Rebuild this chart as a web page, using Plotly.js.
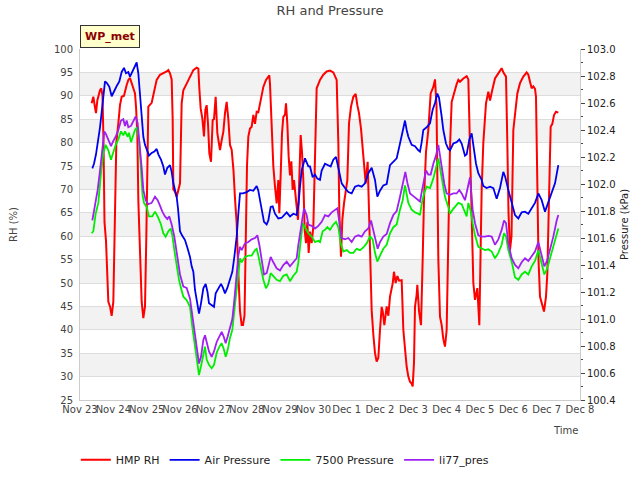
<!DOCTYPE html>
<html>
<head>
<meta charset="utf-8">
<script src="https://cdn.plot.ly/plotly-3.0.1.min.js"></script>
<style>html,body{margin:0;padding:0;background:#fff;}#chart{width:640px;height:480px;}</style>
</head>
<body>
<div id="chart"></div>
<script>
// Time of each reading, in days after 2023-11-23 00:00
var startDate = Date.UTC(2023, 10, 23);

var hmpDays = [0.35,0.40,0.45,0.48,0.52,0.56,0.60,0.64,0.675,0.705,0.735,0.78,0.82,0.85,0.90,0.95,1.00,1.05,1.09,1.15,1.20,1.25,1.32,1.40,1.45,1.50,1.55,1.60,1.65,1.68,1.72,1.75,1.80,1.85,1.90,1.95,1.99,2.02,2.05,2.15,2.25,2.30,2.40,2.50,2.60,2.65,2.70,2.75,2.78,2.80,2.85,2.90,2.95,3.00,3.05,3.10,3.20,3.30,3.40,3.50,3.55,3.58,3.62,3.67,3.72,3.76,3.80,3.84,3.88,3.93,3.98,4.02,4.07,4.12,4.16,4.20,4.25,4.30,4.35,4.40,4.45,4.50,4.55,4.58,4.605,4.65,4.70,4.75,4.80,4.85,4.89,4.935,4.98,5.01,5.05,5.10,5.15,5.20,5.25,5.30,5.35,5.45,5.50,5.58,5.64,5.68,5.70,5.75,5.80,5.85,5.90,5.95,5.98,6.02,6.06,6.10,6.15,6.18,6.22,6.26,6.30,6.34,6.38,6.42,6.46,6.50,6.54,6.58,6.62,6.66,6.70,6.74,6.78,6.82,6.86,6.90,6.95,7.00,7.05,7.10,7.20,7.30,7.40,7.50,7.60,7.70,7.75,7.78,7.83,7.87,7.92,7.97,8.02,8.07,8.13,8.20,8.27,8.32,8.37,8.43,8.47,8.53,8.57,8.63,8.67,8.71,8.75,8.80,8.85,8.90,8.95,9.00,9.05,9.08,9.13,9.20,9.25,9.30,9.38,9.42,9.47,9.52,9.57,9.65,9.70,9.75,9.80,9.85,9.90,9.95,9.98,10.02,10.05,10.10,10.12,10.17,10.23,10.28,10.32,10.38,10.45,10.52,10.60,10.65,10.695,10.725,10.75,10.80,10.85,10.90,10.95,11.00,11.04,11.08,11.10,11.15,11.25,11.30,11.35,11.40,11.50,11.60,11.65,11.68,11.715,11.76,11.80,11.85,11.92,11.98,12.015,12.05,12.10,12.18,12.25,12.30,12.38,12.45,12.55,12.65,12.70,12.78,12.82,12.855,12.90,12.945,13.00,13.05,13.12,13.20,13.30,13.40,13.45,13.50,13.55,13.60,13.65,13.68,13.72,13.755,13.80,13.85,13.88,13.92,13.98,14.02,14.06,14.12,14.17,14.22,14.28,14.35];
var hmpRH = [88.4,89.8,87.5,86.3,89.0,90.5,91.2,91.6,90.0,80.0,63.0,59.0,50.0,46.0,45.0,43.0,46.0,67.7,80.0,84.1,88.0,89.8,90.0,92.3,93.4,93.8,92.5,91.2,90.5,87.7,82.0,67.7,55.0,46.0,42.5,45.0,60.0,80.0,87.7,88.5,91.7,93.4,94.5,94.8,95.2,95.5,94.8,93.5,85.0,70.0,69.5,68.4,70.0,71.3,88.4,91.2,92.6,94.1,95.5,96.0,95.8,91.6,87.3,85.2,81.3,87.0,88.0,84.0,77.7,75.9,84.8,85.0,89.8,82.0,79.8,78.4,80.5,82.3,86.3,88.7,85.0,79.5,78.5,75.9,74.0,68.0,62.8,52.0,44.0,41.0,41.0,43.0,60.0,75.0,81.3,83.0,83.4,85.9,84.0,86.6,86.5,89.8,91.9,93.4,94.0,94.4,92.5,84.1,74.9,70.6,67.0,72.0,64.9,73.0,82.0,85.5,86.0,88.4,84.0,77.0,73.0,76.0,69.9,72.0,68.4,66.3,63.5,75.0,81.6,78.0,72.0,61.3,58.5,63.0,56.4,61.0,58.5,62.0,77.0,91.6,93.4,94.5,95.2,95.4,95.0,93.4,80.0,65.0,55.6,63.5,67.0,69.2,72.0,84.1,87.7,89.8,90.4,88.0,86.3,83.0,79.1,74.1,71.3,75.9,65.0,52.8,44.2,39.0,35.0,33.2,34.0,40.0,44.9,44.0,41.0,45.0,43.0,47.1,49.9,52.4,50.0,51.5,50.5,50.6,40.0,36.0,32.1,30.0,28.9,28.5,27.9,33.0,44.9,47.5,49.6,44.0,41.0,55.0,68.0,78.0,82.7,90.5,91.9,93.5,88.0,70.0,55.0,42.8,41.0,38.0,36.4,40.0,55.0,70.0,79.1,88.7,91.6,92.5,93.4,93.0,93.7,94.2,93.5,85.0,70.0,58.0,50.0,46.4,48.9,41.0,55.0,70.0,80.0,88.4,90.9,89.0,91.6,93.7,94.8,95.9,95.0,94.1,80.0,65.0,57.0,60.0,82.7,86.0,90.5,92.7,94.1,95.0,94.5,93.0,91.6,92.0,91.5,89.8,70.0,55.0,47.1,45.5,44.9,43.9,47.1,52.0,65.0,83.4,84.0,85.9,86.6,86.4];

var airDays = [0.37,0.42,0.48,0.52,0.60,0.68,0.75,0.80,0.88,0.95,1.00,1.05,1.11,1.18,1.25,1.32,1.38,1.45,1.50,1.55,1.62,1.70,1.75,1.80,1.85,1.90,1.95,2.00,2.07,2.15,2.23,2.30,2.35,2.43,2.50,2.55,2.62,2.70,2.75,2.80,2.85,2.90,2.94,3.00,3.06,3.15,3.22,3.30,3.35,3.40,3.45,3.51,3.57,3.63,3.70,3.77,3.825,3.87,3.95,4.02,4.07,4.15,4.23,4.29,4.35,4.42,4.50,4.57,4.63,4.70,4.75,4.80,4.89,5.00,5.10,5.20,5.30,5.35,5.40,5.45,5.52,5.60,5.65,5.72,5.78,5.85,5.95,6.05,6.15,6.20,6.30,6.40,6.50,6.555,6.60,6.65,6.75,6.80,6.85,6.90,6.98,7.05,7.12,7.20,7.25,7.35,7.45,7.52,7.60,7.68,7.75,7.85,7.95,8.05,8.15,8.25,8.35,8.45,8.55,8.65,8.75,8.85,8.92,9.00,9.10,9.20,9.30,9.40,9.50,9.60,9.70,9.75,9.80,9.85,9.95,10.05,10.15,10.20,10.25,10.30,10.40,10.50,10.58,10.65,10.72,10.77,10.85,10.90,10.98,11.05,11.10,11.20,11.30,11.38,11.45,11.55,11.60,11.68,11.75,11.82,11.88,11.95,12.05,12.10,12.20,12.30,12.40,12.50,12.60,12.70,12.76,12.85,12.95,13.05,13.15,13.25,13.35,13.45,13.55,13.65,13.75,13.85,13.95,14.05,14.15,14.25,14.35];
var airP = [102.116,102.15,102.22,102.28,102.42,102.60,102.76,102.75,102.72,102.65,102.68,102.70,102.73,102.76,102.83,102.86,102.82,102.83,102.795,102.82,102.86,102.90,102.82,102.68,102.48,102.35,102.29,102.26,102.21,102.23,102.24,102.26,102.22,102.18,102.13,102.07,102.12,102.14,102.09,102.005,101.96,101.906,101.82,101.65,101.62,101.585,101.53,101.46,101.39,101.35,101.215,101.12,101.04,101.116,101.227,101.26,101.20,101.116,101.10,101.09,101.19,101.23,101.26,101.23,101.19,101.23,101.29,101.35,101.46,101.61,101.78,101.93,101.93,101.94,101.956,101.95,101.985,101.95,101.88,101.81,101.72,101.70,101.73,101.83,101.835,101.78,101.745,101.75,101.78,101.79,101.76,101.78,101.77,101.85,101.98,102.10,102.19,102.16,102.13,102.13,102.05,102.07,102.04,102.03,102.10,102.15,102.14,102.13,102.18,102.20,102.12,102.005,101.97,101.94,101.93,101.98,101.99,101.98,102.005,102.08,102.12,102.03,101.906,101.95,101.99,102.00,102.14,102.165,102.19,102.30,102.41,102.47,102.40,102.35,102.29,102.28,102.25,102.24,102.31,102.40,102.42,102.45,102.55,102.60,102.67,102.64,102.50,102.40,102.30,102.26,102.25,102.30,102.31,102.33,102.30,102.21,102.22,102.33,102.375,102.26,102.15,102.08,102.03,101.985,101.97,101.98,101.97,101.89,101.97,102.09,102.05,101.956,101.86,101.77,101.745,101.79,101.795,101.78,101.82,101.86,101.93,101.88,101.795,101.86,101.93,102.005,102.14];

var p7500Days = [0.35,0.40,0.47,0.55,0.63,0.70,0.77,0.85,0.93,1.00,1.07,1.15,1.23,1.30,1.35,1.43,1.47,1.53,1.60,1.65,1.71,1.77,1.83,1.875,1.92,2.00,2.07,2.17,2.25,2.33,2.43,2.50,2.57,2.65,2.72,2.77,2.83,2.90,2.97,3.03,3.10,3.20,3.30,3.37,3.43,3.50,3.57,3.63,3.70,3.75,3.80,3.87,3.95,4.02,4.10,4.17,4.25,4.31,4.37,4.43,4.50,4.57,4.63,4.70,4.75,4.80,4.85,4.95,5.05,5.15,5.25,5.30,5.35,5.42,5.50,5.58,5.65,5.72,5.80,5.90,6.00,6.10,6.20,6.30,6.40,6.50,6.55,6.62,6.68,6.75,6.85,6.95,7.05,7.15,7.20,7.28,7.35,7.42,7.50,7.60,7.68,7.75,7.82,7.90,8.00,8.10,8.20,8.30,8.40,8.50,8.60,8.70,8.78,8.85,8.92,9.00,9.10,9.20,9.30,9.40,9.50,9.60,9.68,9.75,9.80,9.85,9.95,10.05,10.15,10.20,10.25,10.32,10.40,10.50,10.60,10.68,10.75,10.80,10.88,10.95,11.05,11.10,11.18,11.25,11.35,11.45,11.55,11.60,11.65,11.72,11.78,11.85,11.95,12.05,12.15,12.25,12.35,12.45,12.55,12.65,12.72,12.78,12.85,12.95,13.05,13.15,13.25,13.35,13.45,13.55,13.65,13.75,13.85,13.93,14.01,14.10,14.20,14.30,14.35];
var p7500P = [101.635,101.65,101.78,101.86,102.08,102.23,102.29,102.25,102.18,102.24,102.29,102.33,102.39,102.36,102.39,102.35,102.38,102.31,102.36,102.40,102.42,102.33,102.10,101.92,101.86,101.83,101.76,101.76,101.795,101.76,101.70,101.635,101.61,101.65,101.67,101.62,101.51,101.39,101.29,101.23,101.165,101.14,101.09,100.94,100.82,100.70,100.585,100.65,100.75,100.795,100.70,100.66,100.635,100.66,100.75,100.79,100.82,100.78,100.72,100.77,100.86,100.92,101.06,101.215,101.34,101.45,101.42,101.46,101.47,101.47,101.51,101.52,101.47,101.39,101.29,101.227,101.26,101.34,101.32,101.29,101.28,101.32,101.33,101.28,101.32,101.35,101.42,101.585,101.71,101.68,101.635,101.61,101.57,101.58,101.57,101.65,101.66,101.68,101.66,101.70,101.72,101.68,101.56,101.50,101.51,101.49,101.49,101.52,101.51,101.53,101.56,101.61,101.59,101.49,101.425,101.47,101.52,101.55,101.635,101.68,101.70,101.81,101.88,101.99,101.93,101.86,101.81,101.79,101.78,101.77,101.85,101.93,101.98,101.97,102.04,102.13,102.19,102.12,102.005,101.906,101.83,101.78,101.81,101.83,101.86,101.85,101.78,101.76,101.86,101.80,101.71,101.62,101.535,101.52,101.51,101.516,101.50,101.45,101.49,101.55,101.635,101.61,101.51,101.425,101.31,101.29,101.33,101.35,101.33,101.39,101.43,101.51,101.41,101.33,101.37,101.45,101.55,101.635,101.67];

var li77Days = [0.37,0.45,0.53,0.60,0.67,0.73,0.78,0.85,0.93,1.00,1.07,1.15,1.23,1.30,1.35,1.40,1.45,1.53,1.60,1.67,1.73,1.80,1.85,1.90,1.97,2.05,2.15,2.25,2.33,2.40,2.47,2.55,2.62,2.68,2.75,2.83,2.90,3.00,3.10,3.20,3.30,3.37,3.45,3.53,3.57,3.63,3.70,3.75,3.81,3.87,3.95,4.02,4.10,4.17,4.25,4.31,4.37,4.43,4.50,4.57,4.63,4.70,4.75,4.80,4.85,4.95,5.05,5.15,5.25,5.32,5.38,5.45,5.52,5.60,5.72,5.80,5.90,6.00,6.10,6.20,6.30,6.40,6.50,6.55,6.65,6.72,6.80,6.85,6.95,7.05,7.15,7.25,7.35,7.45,7.55,7.65,7.72,7.78,7.85,7.95,8.05,8.15,8.25,8.35,8.45,8.55,8.65,8.73,8.80,8.88,8.93,9.00,9.10,9.20,9.30,9.40,9.50,9.60,9.70,9.76,9.82,9.90,10.00,10.10,10.20,10.25,10.30,10.38,10.45,10.52,10.60,10.68,10.75,10.80,10.88,10.93,11.00,11.10,11.20,11.30,11.38,11.45,11.55,11.65,11.70,11.78,11.85,11.95,12.05,12.15,12.25,12.35,12.45,12.55,12.65,12.72,12.78,12.85,12.95,13.05,13.15,13.25,13.35,13.45,13.55,13.65,13.75,13.85,13.93,14.01,14.10,14.20,14.30,14.35];
var li77P = [101.73,101.85,101.956,102.10,102.28,102.39,102.37,102.33,102.28,102.32,102.35,102.40,102.47,102.48,102.43,102.47,102.42,102.43,102.46,102.50,102.45,102.28,102.12,101.956,101.88,101.85,101.86,101.906,101.88,101.84,101.795,101.76,101.74,101.76,101.70,101.61,101.49,101.33,101.24,101.23,101.15,101.03,100.87,100.72,100.67,100.72,100.845,100.88,100.82,100.76,100.72,100.76,100.83,100.87,100.905,100.87,100.82,100.87,100.93,101.00,101.14,101.31,101.47,101.535,101.51,101.56,101.57,101.59,101.60,101.62,101.55,101.44,101.33,101.34,101.46,101.42,101.375,101.36,101.40,101.425,101.39,101.42,101.45,101.55,101.71,101.82,101.77,101.70,101.69,101.67,101.69,101.72,101.77,101.76,101.79,101.81,101.82,101.72,101.60,101.59,101.60,101.57,101.61,101.62,101.61,101.65,101.67,101.73,101.65,101.56,101.52,101.57,101.61,101.63,101.71,101.77,101.80,101.906,102.03,102.09,102.01,101.93,101.91,101.89,101.87,101.94,102.005,102.10,102.07,102.07,102.15,102.21,102.29,102.21,102.10,102.00,101.93,101.92,101.93,101.93,101.956,101.93,101.88,101.98,102.05,101.81,101.71,101.62,101.61,101.61,101.615,101.61,101.55,101.59,101.66,101.73,101.71,101.56,101.45,101.40,101.375,101.42,101.45,101.43,101.47,101.50,101.57,101.47,101.39,101.43,101.51,101.61,101.73,101.77];

var seriesNames = ['HMP RH', 'Air Pressure', '7500 Pressure', 'li77_pres'];
var seriesColors = ['#ff0000', '#0000ee', '#00ee00', '#a020f0'];
var rhTicks = [25,30,35,40,45,50,55,60,65,70,75,80,85,90,95,100];
var shadedBands = [[30,35],[40,45],[50,55],[60,65],[70,75],[80,85],[90,95]];

function toDates(days) {
  return days.map(function (d) {
    return new Date(startDate + d * 86400000).toISOString().replace('T', ' ').slice(0, 19);
  });
}

var font = 'DejaVu Sans, sans-serif';
var traces = [
  {x: toDates(hmpDays), y: hmpRH, name: seriesNames[0], yaxis: 'y', line: {color: seriesColors[0], width: 2}},
  {x: toDates(airDays), y: airP, name: seriesNames[1], yaxis: 'y2', line: {color: seriesColors[1], width: 1.8}},
  {x: toDates(p7500Days), y: p7500P, name: seriesNames[2], yaxis: 'y2', line: {color: seriesColors[2], width: 1.8}},
  {x: toDates(li77Days), y: li77P, name: seriesNames[3], yaxis: 'y2', line: {color: seriesColors[3], width: 1.8}}
].map(function (t) { t.type = 'scatter'; t.mode = 'lines'; return t; });

var shapes = shadedBands.map(function (b) {
  return {type: 'rect', xref: 'paper', yref: 'y', x0: 0, x1: 1, y0: b[0], y1: b[1],
          fillcolor: '#f2f2f2', line: {width: 0}, layer: 'below'};
});

var layout = {
  width: 640, height: 480,
  margin: {l: 80, r: 60, t: 49, b: 80, autoexpand: false},
  paper_bgcolor: '#ffffff', plot_bgcolor: '#ffffff',
  font: {family: font, size: 10, color: '#444'},
  title: {text: 'RH and Pressure', x: 0.5, xref: 'paper', y: 0.978, yanchor: 'middle', font: {family: font, size: 13, color: '#444'}},
  showlegend: true,
  legend: {orientation: 'h', xref: 'container', x: 0.445, xanchor: 'center', yref: 'container', y: 0.042, yanchor: 'middle',
           font: {family: font, size: 11, color: '#222'}, itemwidth: 30, bgcolor: 'rgba(0,0,0,0)'},
  xaxis: {
    type: 'date', range: ['2023-11-23', '2023-12-08'],
    tickformat: '%b %-d', dtick: 86400000, tick0: '2023-11-23', tickangle: 0,
    showgrid: false, zeroline: false, showline: true, linecolor: '#cccccc', linewidth: 1,
    ticks: '', tickfont: {family: font, size: 10, color: '#444'}
  },
  yaxis: {
    range: [25, 100], tickvals: rhTicks, ticks: '', showgrid: true, gridcolor: '#dddddd', gridwidth: 1,
    zeroline: false, showline: true, linecolor: '#cccccc', linewidth: 1,
    tickfont: {family: font, size: 10, color: '#444'}, ticklabelstandoff: 4,
    title: {text: 'RH (%)', standoff: 34, font: {family: font, size: 10, color: '#444'}}
  },
  yaxis2: {
    overlaying: 'y', side: 'right', range: [100.4, 103.0], dtick: 0.2, tick0: 100.4, tickformat: '.1f',
    showgrid: false, zeroline: false, showline: true, linecolor: '#cccccc', linewidth: 1,
    ticks: 'outside', ticklen: 4, tickcolor: '#444',
    minor: {dtick: 0.1, ticks: 'outside', ticklen: 2, tickcolor: '#444', showgrid: false},
    tickfont: {family: font, size: 10, color: '#222'},
    title: {text: 'Pressure (kPa)', standoff: 6, font: {family: font, size: 10, color: '#222'}}
  },
  shapes: shapes,
  annotations: [
    {xref: 'paper', yref: 'paper', x: 0, y: 1, xanchor: 'left', yanchor: 'bottom', yshift: 1,
     text: '<b>WP_met</b>', showarrow: false, font: {family: font, size: 11, color: '#8b0000'},
     bgcolor: '#ffffcc', bordercolor: '#333333', borderwidth: 1, borderpad: 4},
    {xref: 'paper', yref: 'paper', x: 0.97, y: 0, xanchor: 'center', yanchor: 'top', yshift: -23,
     text: 'Time', showarrow: false, font: {family: font, size: 10, color: '#444'}}
  ]
};

Plotly.newPlot('chart', traces, layout, {displayModeBar: false, staticPlot: true});
</script>
</body>
</html>
